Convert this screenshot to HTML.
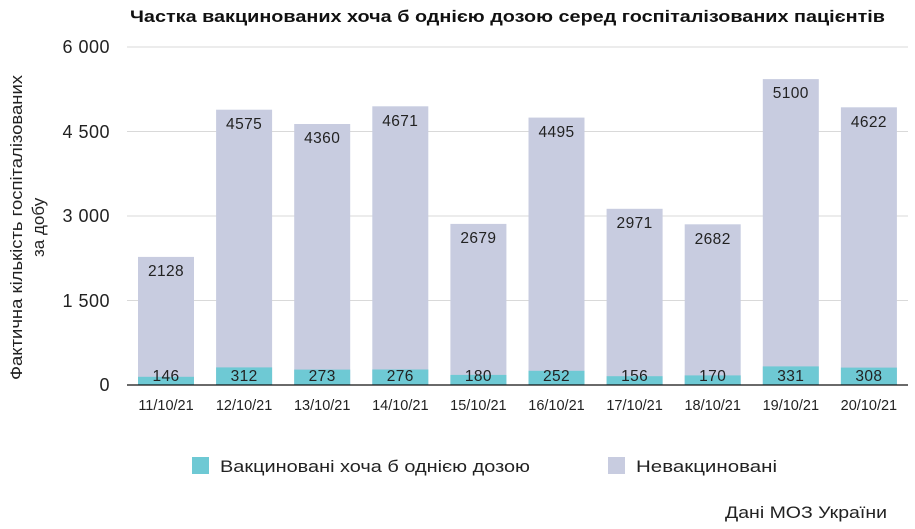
<!DOCTYPE html>
<html><head><meta charset="utf-8"><style>
body{margin:0;background:#fff;}
svg{display:block;font-family:"Liberation Sans","DejaVu Sans",sans-serif;}
</style></head><body>
<svg width="915" height="529" viewBox="0 0 915 529">
<text x="130" y="22" textLength="755" lengthAdjust="spacingAndGlyphs" font-size="17" font-weight="bold" fill="#111">Частка вакцинованих хоча б однією дозою серед госпіталізованих пацієнтів</text>
<g stroke="#d9d9d9" stroke-width="1">
<line x1="127" x2="908" y1="47" y2="47"/><line x1="127" x2="908" y1="131.5" y2="131.5"/>
<line x1="127" x2="908" y1="216" y2="216"/><line x1="127" x2="908" y1="300.5" y2="300.5"/>
</g>
<g font-size="18" fill="#222" text-anchor="end" letter-spacing="0.5">
<text x="110" y="53">6 000</text><text x="110" y="138">4 500</text><text x="110" y="222">3 000</text><text x="110" y="307">1 500</text><text x="110" y="391">0</text>
</g>
<text transform="translate(22,380) rotate(-90)" textLength="305" lengthAdjust="spacingAndGlyphs" font-size="17" fill="#222">Фактична кількість госпіталізованих</text>
<text transform="translate(44,257) rotate(-90)" font-size="17" fill="#222">за добу</text>
<g fill="#c8cce0">
<rect x="138" y="256.9" width="56" height="128.1"/>
<rect x="216.1" y="109.7" width="56" height="275.3"/>
<rect x="294.2" y="124" width="56" height="261"/>
<rect x="372.3" y="106.3" width="56" height="278.7"/>
<rect x="450.4" y="223.9" width="56" height="161.1"/>
<rect x="528.5" y="117.6" width="56" height="267.4"/>
<rect x="606.6" y="208.8" width="56" height="176.2"/>
<rect x="684.7" y="224.3" width="56" height="160.7"/>
<rect x="762.8" y="79.1" width="56" height="305.9"/>
<rect x="840.9" y="107.3" width="56" height="277.7"/>
</g>
<g fill="#6ec9d4">
<rect x="138" y="376.8" width="56" height="8.2"/>
<rect x="216.1" y="367.4" width="56" height="17.6"/>
<rect x="294.2" y="369.6" width="56" height="15.4"/>
<rect x="372.3" y="369.5" width="56" height="15.5"/>
<rect x="450.4" y="374.9" width="56" height="10.1"/>
<rect x="528.5" y="370.8" width="56" height="14.2"/>
<rect x="606.6" y="376.2" width="56" height="8.8"/>
<rect x="684.7" y="375.4" width="56" height="9.6"/>
<rect x="762.8" y="366.4" width="56" height="18.6"/>
<rect x="840.9" y="367.6" width="56" height="17.4"/>
</g>
<line x1="127" x2="908" y1="385" y2="385" stroke="#111" stroke-width="1.2"/>
<g font-size="15.5" fill="#222" text-anchor="middle" letter-spacing="0.4">
<text x="166" y="276">2128</text><text x="244.1" y="129">4575</text><text x="322.2" y="143">4360</text><text x="400.3" y="126">4671</text><text x="478.4" y="243">2679</text><text x="556.5" y="137">4495</text><text x="634.6" y="228">2971</text><text x="712.7" y="244">2682</text><text x="790.8" y="98">5100</text><text x="868.9" y="127">4622</text>
<text x="166" y="381">146</text><text x="244.1" y="381">312</text><text x="322.2" y="381">273</text><text x="400.3" y="381">276</text><text x="478.4" y="381">180</text><text x="556.5" y="381">252</text><text x="634.6" y="381">156</text><text x="712.7" y="381">170</text><text x="790.8" y="381">331</text><text x="868.9" y="381">308</text>
</g>
<g font-size="14.5" fill="#222" text-anchor="middle">
<text x="166" y="410">11/10/21</text><text x="244.1" y="410">12/10/21</text><text x="322.2" y="410">13/10/21</text><text x="400.3" y="410">14/10/21</text><text x="478.4" y="410">15/10/21</text><text x="556.5" y="410">16/10/21</text><text x="634.6" y="410">17/10/21</text><text x="712.7" y="410">18/10/21</text><text x="790.8" y="410">19/10/21</text><text x="868.9" y="410">20/10/21</text>
</g>
<rect x="192" y="457" width="17" height="17" fill="#6ec9d4"/>
<text x="220" y="472" textLength="310" lengthAdjust="spacingAndGlyphs" font-size="17" fill="#222">Вакциновані хоча б однією дозою</text>
<rect x="608" y="457" width="17" height="17" fill="#c8cce0"/>
<text x="636" y="472" textLength="141" lengthAdjust="spacingAndGlyphs" font-size="17" fill="#222">Невакциновані</text>
<text x="725" y="518" textLength="162" lengthAdjust="spacingAndGlyphs" font-size="17" fill="#222">Дані МОЗ України</text>
</svg>
</body></html>
